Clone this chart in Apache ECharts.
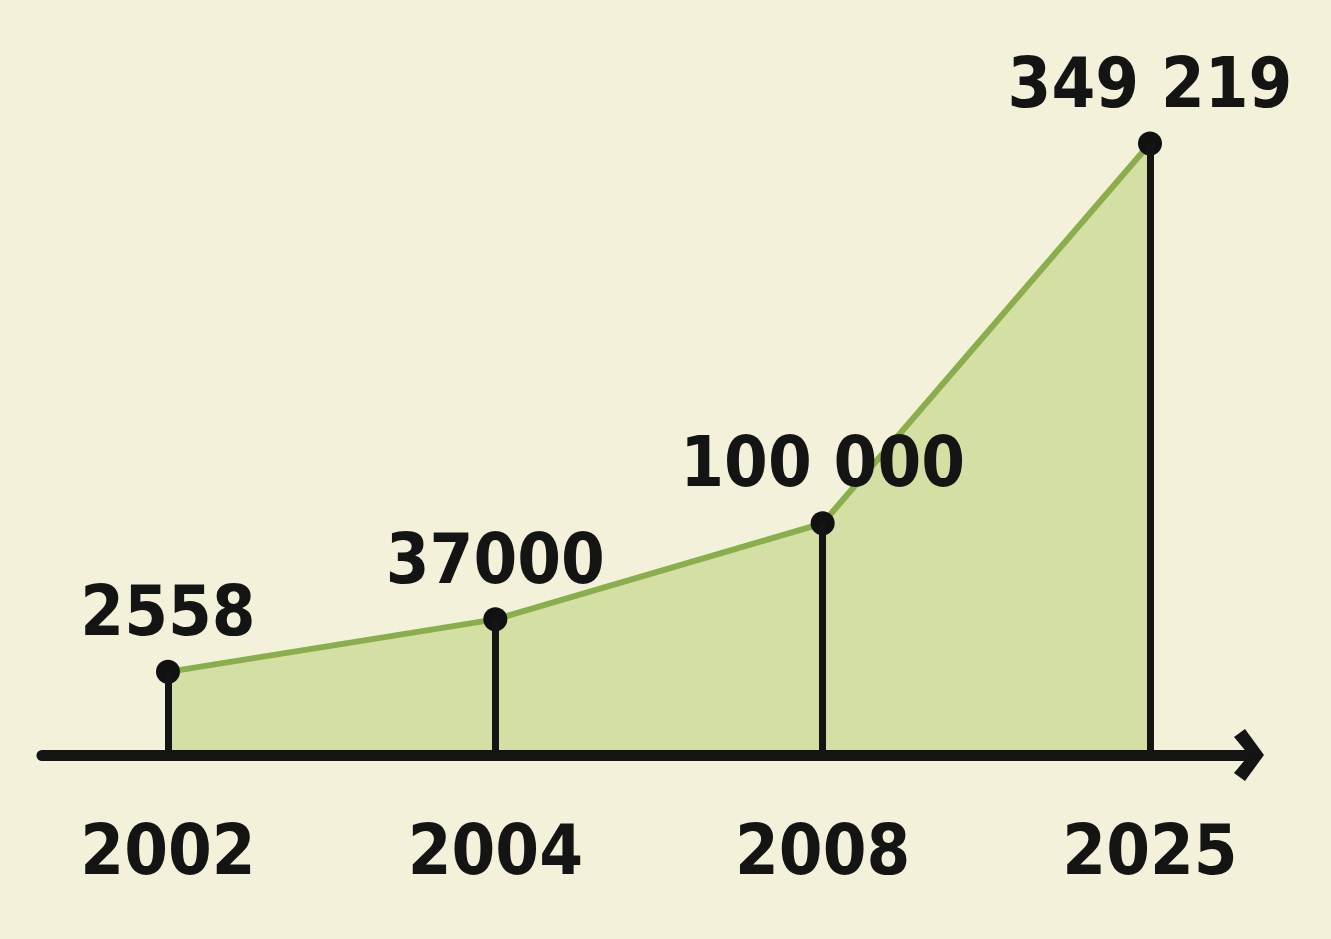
<!DOCTYPE html>
<html>
<head>
<meta charset="utf-8">
<script src="https://cdn.jsdelivr.net/npm/echarts@6/dist/echarts.min.js"></script>
<style>
html,body{margin:0;padding:0;background:#F4F1DA;}
#c{width:1331px;height:939px;}
</style>
</head>
<body>
<div id="c"></div>
<script>
const years = ['2002', '2004', '2008', '2025'];
const values = [2558, 37000, 100000, 349219];
const valueLabels = ['2558', '37000', '100 000', '349 219'];
const yMin = -52000;
const yMax = 360000;

const FONT = "'DejaVu Sans Condensed', 'DejaVu Sans', sans-serif";

const chart = echarts.init(document.getElementById('c'));
chart.setOption({
  backgroundColor: '#F4F1DA',
  animation: false,
  grid: [
    { left: 168, right: 181, top: 127, bottom: 184 },
    { left: 42, right: 82, top: 127, bottom: 184 }
  ],
  xAxis: [
    {
      type: 'category', gridIndex: 0, data: years, boundaryGap: false,
      axisLine: { show: false }, axisTick: { show: false }, splitLine: { show: false },
      axisLabel: { margin: 66, color: '#141414', fontSize: 70, fontWeight: 'bold', fontFamily: FONT }
    },
    {
      type: 'value', gridIndex: 1, min: 0, max: 1, z: 10,
      axisLine: {
        show: true, onZero: false,
        lineStyle: { color: '#141414', width: 11, cap: 'round' },
        symbol: ['none', 'path://M0,19 L26,0 L52,19 L44,30 L26,15 L8,30 Z'],
        symbolSize: [54, 30], symbolOffset: [0, 0]
      },
      axisTick: { show: false }, axisLabel: { show: false }, splitLine: { show: false }
    }
  ],
  yAxis: [
    { type: 'value', gridIndex: 0, min: yMin, max: yMax, show: false, splitLine: { show: false } },
    { type: 'value', gridIndex: 1, min: 0, max: 1, show: false, splitLine: { show: false } }
  ],
  series: [
    {
      type: 'line', xAxisIndex: 0, yAxisIndex: 0, data: values,
      z: 3,
      symbol: 'circle', symbolSize: 24,
      itemStyle: { color: '#111111' },
      lineStyle: { color: '#8AAE4B', width: 6 },
      areaStyle: { color: '#D4DFA4', opacity: 1, origin: 'start' },
      label: {
        show: true, position: 'top', distance: 8,
        color: '#141414', fontSize: 70, fontWeight: 'bold', fontFamily: FONT,
        formatter: p => valueLabels[p.dataIndex]
      },
      markLine: {
        silent: true, symbol: 'none', z: 5,
        label: { show: false },
        emphasis: { disabled: true },
        lineStyle: { color: '#141414', width: 7, type: 'solid' },
        data: values.map((v, i) => [{ coord: [i, yMin] }, { coord: [i, v] }])
      }
    }
  ]
});
</script>
</body>
</html>
